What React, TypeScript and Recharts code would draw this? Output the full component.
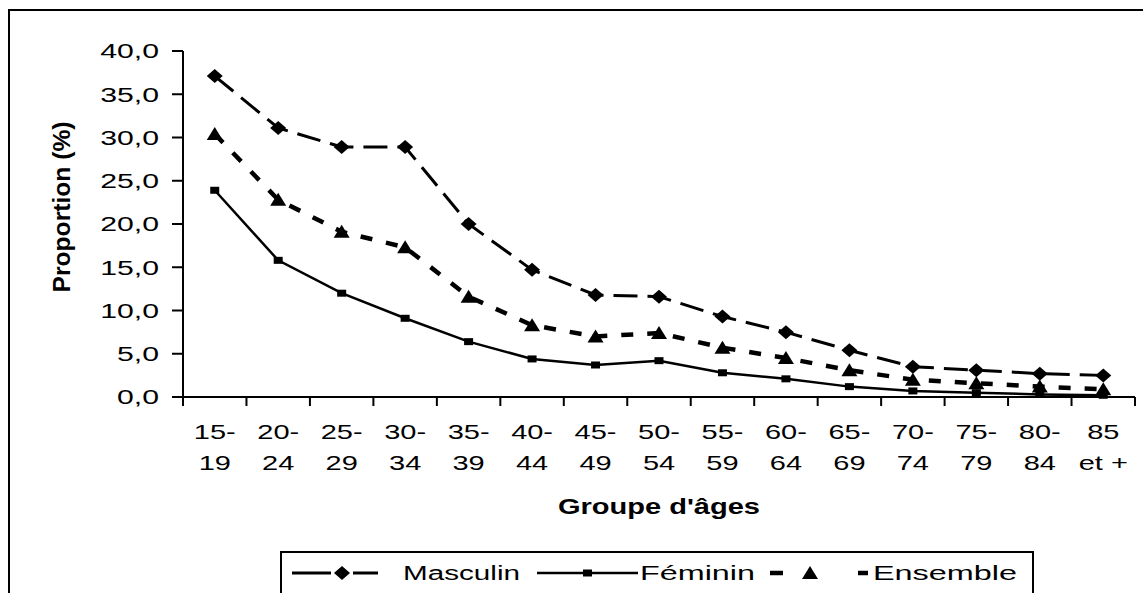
import React from 'react';
import { LineChart, Line, XAxis, YAxis } from 'recharts';

// age groups (two-line tick labels)
const ageGroups = [
  '15-\n19', '20-\n24', '25-\n29', '30-\n34', '35-\n39', '40-\n44', '45-\n49', '50-\n54',
  '55-\n59', '60-\n64', '65-\n69', '70-\n74', '75-\n79', '80-\n84', '85\net +',
];
const masculin = [37.1, 31.1, 28.9, 28.9, 20.0, 14.7, 11.8, 11.6, 9.3, 7.5, 5.4, 3.5, 3.1, 2.7, 2.5];
const feminin = [23.9, 15.8, 12.0, 9.1, 6.4, 4.4, 3.7, 4.2, 2.8, 2.1, 1.2, 0.7, 0.5, 0.3, 0.2];
const ensemble = [30.4, 22.8, 19.1, 17.3, 11.6, 8.3, 7.0, 7.4, 5.7, 4.5, 3.1, 2.0, 1.6, 1.2, 0.9];
const yTicks = [0, 5, 10, 15, 20, 25, 30, 35, 40];
// category boundaries (Excel-style ticks between categories)
const xTicks = ageGroups.map((_, i) => i).concat(ageGroups.length);

// each category sits in the middle of its slot
const data = ageGroups.map((age, i) => ({
  pos: i + 0.5,
  age,
  masculin: masculin[i],
  feminin: feminin[i],
  ensemble: ensemble[i],
}));

const W = 1143;
const H = 593;
const Y_AXIS_W = 183;
const MARGIN_R = 8;
const HALF_SLOT = (W - Y_AXIS_W - MARGIN_R) / ageGroups.length / 2;

const FONT = '"Liberation Sans", Arial, sans-serif';

const fmt = (v: number) => v.toFixed(1).replace('.', ',');

const YTick = ({ x, y, payload }: any) => (
  <text
    transform={`translate(${x - 13},${y}) scale(1.44,1)`}
    textAnchor="end"
    dominantBaseline="central"
    fontSize={21}
    fontFamily={FONT}
    fill="#000"
  >
    {fmt(payload.value)}
  </text>
);

const XTick = ({ x, y, payload }: any) => {
  const label = ageGroups[payload.value];
  if (!label) return <g />;
  const lines = label.split('\n');
  return (
    <g>
      {lines.map((t, i) => (
        <text
          key={i}
          transform={`translate(${x + HALF_SLOT},${y + 26 + i * 31}) scale(1.38,1)`}
          textAnchor="middle"
          dominantBaseline="central"
          fontSize={21}
          fontFamily={FONT}
          fill="#000"
        >
          {t}
        </text>
      ))}
    </g>
  );
};

const diamond = (cx: number, cy: number) =>
  `${cx},${cy - 7} ${cx + 8},${cy} ${cx},${cy + 7} ${cx - 8},${cy}`;
const triangle = (cx: number, cy: number) =>
  `${cx},${cy - 7} ${cx + 8},${cy + 6} ${cx - 8},${cy + 6}`;

const DiamondDot = (p: any) => <polygon key={`m-${p.index}`} points={diamond(p.cx, p.cy)} fill="#000" />;
const SquareDot = (p: any) => <rect key={`f-${p.index}`} x={p.cx - 4.5} y={p.cy - 3.5} width={9} height={7} fill="#000" />;
const TriangleDot = (p: any) => <polygon key={`e-${p.index}`} points={triangle(p.cx, p.cy)} fill="#000" />;

export default function App() {
  return (
    <div
      style={{
        position: 'absolute',
        left: 0,
        top: 0,
        width: W,
        height: H,
        overflow: 'hidden',
        background: '#fff',
      }}
    >
      <div
        style={{
          position: 'absolute',
          left: 8,
          top: 9,
          width: 1160,
          height: 620,
          border: '2px solid #000',
        }}
      />
      <div style={{ position: 'absolute', left: 0, top: 0 }}>
        <LineChart width={W} height={H} data={data} margin={{ top: 51, right: MARGIN_R, bottom: 0, left: 0 }}>
          <XAxis
            dataKey="pos"
            type="number"
            domain={[0, ageGroups.length]}
            ticks={xTicks}
            interval={0}
            tickSize={9}
            tickMargin={0}
            height={196}
            axisLine={{ stroke: '#000', strokeWidth: 2 }}
            tickLine={{ stroke: '#000', strokeWidth: 2 }}
            tick={<XTick />}
          />
          <YAxis
            domain={[0, 40]}
            ticks={yTicks}
            width={Y_AXIS_W}
            tickSize={11}
            tickMargin={0}
            axisLine={{ stroke: '#000', strokeWidth: 2 }}
            tickLine={{ stroke: '#000', strokeWidth: 2 }}
            tick={<YTick />}
          />
          <Line
            dataKey="masculin"
            name="Masculin"
            type="linear"
            stroke="#000"
            strokeWidth={3}
            strokeDasharray="24 10"
            dot={DiamondDot}
            activeDot={false}
            isAnimationActive={false}
          />
          <Line
            dataKey="feminin"
            name="Féminin"
            type="linear"
            stroke="#000"
            strokeWidth={2.5}
            dot={SquareDot}
            activeDot={false}
            isAnimationActive={false}
          />
          <Line
            dataKey="ensemble"
            name="Ensemble"
            type="linear"
            stroke="#000"
            strokeWidth={4.5}
            strokeDasharray="12 14"
            dot={TriangleDot}
            activeDot={false}
            isAnimationActive={false}
          />
        </LineChart>
      </div>
      <svg
        width={W}
        height={H}
        style={{ position: 'absolute', left: 0, top: 0, pointerEvents: 'none' }}
        fontFamily={FONT}
      >
        <text
          transform="translate(61,207) rotate(-90)"
          textAnchor="middle"
          dominantBaseline="central"
          fontSize={24}
          fontWeight="bold"
          textLength={171}
          lengthAdjust="spacingAndGlyphs"
        >
          Proportion (%)
        </text>
        <text
          x={558}
          y={506}
          dominantBaseline="central"
          fontSize={22}
          fontWeight="bold"
          textLength={202}
          lengthAdjust="spacingAndGlyphs"
        >
          Groupe d'âges
        </text>
        {/* legend */}
        <rect x={281} y={552} width={752} height={70} fill="#fff" stroke="#000" strokeWidth={2} />
        <line x1={292} y1={573} x2={331} y2={573} stroke="#000" strokeWidth={3} />
        <line x1={353} y1={573} x2={378} y2={573} stroke="#000" strokeWidth={3} />
        <polygon points={diamond(342, 573)} fill="#000" />
        <text x={403} y={573} dominantBaseline="central" fontSize={20} textLength={117} lengthAdjust="spacingAndGlyphs">
          Masculin
        </text>
        <line x1={537} y1={573} x2={638} y2={573} stroke="#000" strokeWidth={2.5} />
        <rect x={583} y={569.5} width={9} height={7} fill="#000" />
        <text x={640} y={573} dominantBaseline="central" fontSize={20} textLength={115} lengthAdjust="spacingAndGlyphs">
          Féminin
        </text>
        <line x1={770} y1={573} x2={783} y2={573} stroke="#000" strokeWidth={4.5} />
        <polygon points={triangle(810, 573)} fill="#000" />
        <line x1={858} y1={573} x2={868} y2={573} stroke="#000" strokeWidth={4.5} />
        <text x={873} y={573} dominantBaseline="central" fontSize={20} textLength={144} lengthAdjust="spacingAndGlyphs">
          Ensemble
        </text>
      </svg>
    </div>
  );
}
